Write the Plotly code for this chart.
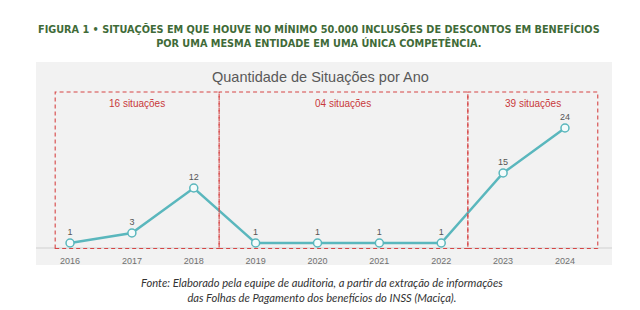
import plotly.graph_objects as go

years = [2016, 2017, 2018, 2019, 2020, 2021, 2022, 2023, 2024]
counts = [1, 3, 12, 1, 1, 1, 1, 15, 24]
period_labels = ["16 situações", "04 situações", "39 situações"]

fig_title = ("<b>FIGURA 1 • SITUAÇÕES EM QUE HOUVE NO MÍNIMO 50.000 INCLUSÕES DE DESCONTOS EM BENEFÍCIOS<br>"
             "POR UMA MESMA ENTIDADE EM UMA ÚNICA COMPETÊNCIA.</b>")
chart_title = "Quantidade de Situações por Ano"
caption = ("<i>Fonte: Elaborado pela equipe de auditoria, a partir da extração de informações<br>"
           "das Folhas de Pagamento dos benefícios do INSS (Maciça).</i>")

W, H = 640, 310
L, R, T, B = 36, 28, 88, 61
pw, ph = W - L - R, H - T - B


def px(x):
    return (x - L) / pw


def py(y):
    return (H - B - y) / ph


fig = go.Figure()
fig.add_trace(go.Scatter(
    x=years, y=counts, mode="lines+markers+text",
    line=dict(color="#5ab7bd", width=2.5),
    marker=dict(size=8, color="#f4fbfb", line=dict(color="#5ab7bd", width=1.5)),
    text=[str(c) for c in counts], textposition="top center",
    textfont=dict(family="Liberation Sans", size=9, color="#555555"),
    cliponaxis=False, hoverinfo="skip",
))

shapes = [
    dict(type="rect", xref="paper", yref="paper", x0=0, x1=1, y0=py(265), y1=py(62),
         fillcolor="#f2f2f2", line=dict(width=0), layer="below"),
]
red = "#d64545"
boxes = [(2015.76, 2018.41), (2018.41, 2022.43), (2022.43, 2024.53)]
for x0, x1 in boxes:
    shapes.append(dict(type="rect", xref="x", yref="y", x0=x0, x1=x1, y0=-0.1, y1=31.2,
                       line=dict(color=red, width=1.1, dash="4px,3px"), layer="above"))

annotations = [
    dict(text=fig_title, xref="paper", yref="paper", x=px(319), y=py(36), showarrow=False,
         xanchor="center", yanchor="middle",
         font=dict(family="DejaVu Sans Condensed", size=10.8, color="#3f6b38")),
    dict(text=chart_title, xref="paper", yref="paper", x=px(320), y=py(77), showarrow=False,
         xanchor="center", yanchor="middle",
         font=dict(family="Liberation Sans", size=14.5, color="#595959")),
    dict(text=caption, xref="paper", yref="paper", x=px(322), y=py(290), showarrow=False,
         xanchor="center", yanchor="middle",
         font=dict(family="Lato", size=11.2, color="#333333")),
]
label_x = [(b[0] + b[1]) / 2 for b in boxes]
for lx, lab in zip(label_x, period_labels):
    annotations.append(dict(text=lab, xref="x", yref="paper", x=lx, y=py(103), showarrow=False,
                            xanchor="center", yanchor="middle",
                            font=dict(family="Liberation Sans", size=10, color="#c9383a")))

fig.update_layout(
    width=W, height=H, margin=dict(l=L, r=R, t=T, b=B),
    paper_bgcolor="white", plot_bgcolor="rgba(0,0,0,0)",
    showlegend=False, shapes=shapes, annotations=annotations,
    xaxis=dict(range=[2015.45, 2024.76], tickvals=years, ticktext=[str(y) for y in years],
               showgrid=False, zeroline=False, showline=False,
               ticks="outside", ticklen=3, tickcolor="rgba(0,0,0,0)",
               tickfont=dict(family="Liberation Sans", size=9, color="#707070")),
    yaxis=dict(range=[-0.2, 32], showgrid=False, zeroline=False, showticklabels=False,
               showline=False),
)
fig.add_shape(type="line", xref="paper", yref="y", x0=px(36), x1=px(612), y0=0, y1=0,
              line=dict(color="#d0d0d0", width=1), layer="below")

fig.write_html("out.html")
